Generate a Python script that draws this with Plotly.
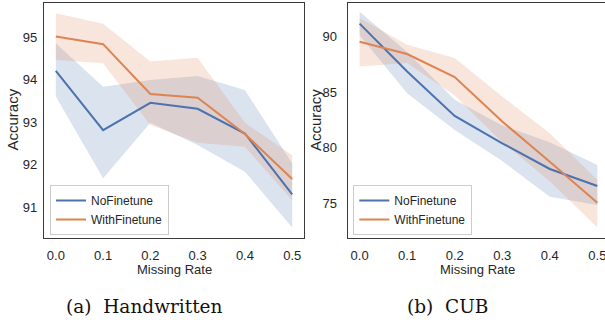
import plotly.graph_objects as go

W, H = 605, 324

missing_rate = [0.0, 0.1, 0.2, 0.3, 0.4, 0.5]

# Handwritten
hw_no = [94.20, 92.81, 93.45, 93.31, 92.73, 91.30]
hw_no_hi = [94.85, 93.83, 93.99, 94.08, 93.75, 92.03]
hw_no_lo = [93.60, 91.68, 92.98, 92.46, 91.83, 90.52]
hw_with = [95.01, 94.83, 93.66, 93.57, 92.72, 91.66]
hw_with_hi = [95.56, 95.31, 94.42, 94.51, 92.98, 92.22]
hw_with_lo = [94.46, 94.38, 92.93, 92.51, 92.42, 91.16]

# CUB
cub_no = [91.14, 86.85, 82.86, 80.40, 78.09, 76.56]
cub_no_hi = [92.2, 88.6, 84.3, 82.0, 80.5, 78.45]
cub_no_lo = [90.1, 84.9, 81.6, 78.8, 75.6, 74.85]
cub_with = [89.52, 88.41, 86.35, 82.35, 78.75, 75.06]
cub_with_hi = [91.65, 89.25, 88.05, 84.6, 81.3, 77.1]
cub_with_lo = [87.3, 87.6, 84.7, 80.5, 77.0, 72.84]

hw_yticks = [91, 92, 93, 94, 95]
cub_yticks = [75, 80, 85, 90]
xticks = [0.0, 0.1, 0.2, 0.3, 0.4, 0.5]
xtick_text = ["0.0", "0.1", "0.2", "0.3", "0.4", "0.5"]

series_names = ["NoFinetune", "WithFinetune"]
BLUE = "#4C72B0"
ORANGE = "#DD8452"
BLUE_F = "rgba(76,114,176,0.2)"
ORANGE_F = "rgba(221,132,82,0.2)"

FONT = "Liberation Sans, Arial, sans-serif"
TXT = "#262626"

fig = go.Figure()

def add_panel(xa, ya, legend, data):
    for (mean, hi, lo, name, col, fcol) in data:
        fig.add_trace(go.Scatter(
            x=missing_rate + missing_rate[::-1], y=hi + lo[::-1],
            fill="toself", fillcolor=fcol, line=dict(width=0),
            mode="lines", showlegend=False, hoverinfo="skip",
            xaxis=xa, yaxis=ya))
    for (mean, hi, lo, name, col, fcol) in data:
        fig.add_trace(go.Scatter(
            x=missing_rate, y=mean, mode="lines", name=name,
            line=dict(color=col, width=2), legend=legend,
            xaxis=xa, yaxis=ya))

add_panel("x", "y", "legend", [
    (hw_no, hw_no_hi, hw_no_lo, series_names[0], BLUE, BLUE_F),
    (hw_with, hw_with_hi, hw_with_lo, series_names[1], ORANGE, ORANGE_F),
])
add_panel("x2", "y2", "legend2", [
    (cub_no, cub_no_hi, cub_no_lo, series_names[0], BLUE, BLUE_F),
    (cub_with, cub_with_hi, cub_with_lo, series_names[1], ORANGE, ORANGE_F),
])

ydom = [1 - 237.7 / H, 1 - 2.5 / H]
spine = dict(showline=True, linecolor="#3a3a3a", linewidth=1.25,
             showgrid=False, zeroline=False, ticks="", automargin=False,
             ticklabeloverflow="allow",
             tickfont=dict(family=FONT, size=13, color=TXT))

fig.update_layout(
    template="none",
    width=W, height=H,
    margin=dict(l=0, r=0, t=0, b=0, autoexpand=False),
    paper_bgcolor="white", plot_bgcolor="white",
    font=dict(family=FONT, color=TXT),
    xaxis=dict(domain=[44 / W, 304 / W], range=[-0.025, 0.525],
               tickvals=xticks, ticktext=xtick_text, mirror=True,
               ticklabelstandoff=6, anchor="y", **spine),
    yaxis=dict(domain=ydom, range=[90.28, 95.81], tickvals=hw_yticks,
               mirror=True, ticklabelstandoff=3, anchor="x", **spine),
    xaxis2=dict(domain=[347.7 / W, 1.0], range=[-0.025, 0.5161],
                tickvals=xticks, ticktext=xtick_text, mirror=True,
                ticklabelstandoff=6, anchor="y2", **spine),
    yaxis2=dict(domain=ydom, range=[71.92, 93.04], tickvals=cub_yticks,
                mirror=False, ticklabelstandoff=7, anchor="x2", **spine),
    legend=dict(x=50 / W, y=1 - 185 / H, xanchor="left", yanchor="top",
                bgcolor="rgba(255,255,255,0.8)", bordercolor="#cccccc",
                borderwidth=1, font=dict(family=FONT, size=12, color=TXT)),
    legend2=dict(x=353.3 / W, y=1 - 185 / H, xanchor="left", yanchor="top",
                 bgcolor="rgba(255,255,255,0.8)", bordercolor="#cccccc",
                 borderwidth=1, font=dict(family=FONT, size=12, color=TXT)),
)

annots = [
    dict(text="Missing Rate", x=174.5 / W, y=1 - 269 / H, font=dict(size=13)),
    dict(text="Missing Rate", x=477.5 / W, y=1 - 269 / H, font=dict(size=13)),
    dict(text="Accuracy", x=11.5 / W, y=1 - 120 / H, textangle=-90, font=dict(size=15)),
    dict(text="Accuracy", x=315 / W, y=1 - 120 / H, textangle=-90, font=dict(size=15)),
    dict(text="(a)  Handwritten", x=144 / W, y=1 - 306.7 / H,
         font=dict(size=18.5, family="DejaVu Serif, serif", color="#111111")),
    dict(text="(b)  CUB", x=447.5 / W, y=1 - 306.7 / H,
         font=dict(size=18.5, family="DejaVu Serif, serif", color="#111111")),
]
for a in annots:
    f = dict(family=FONT, color=TXT)
    f.update(a.pop("font"))
    fig.add_annotation(xref="paper", yref="paper", xanchor="center",
                       yanchor="middle", showarrow=False, font=f, **a)

fig.write_html("out.html", config={"displayModeBar": False},
               post_script="document.body.style.margin='0';document.body.style.overflow='hidden';")
